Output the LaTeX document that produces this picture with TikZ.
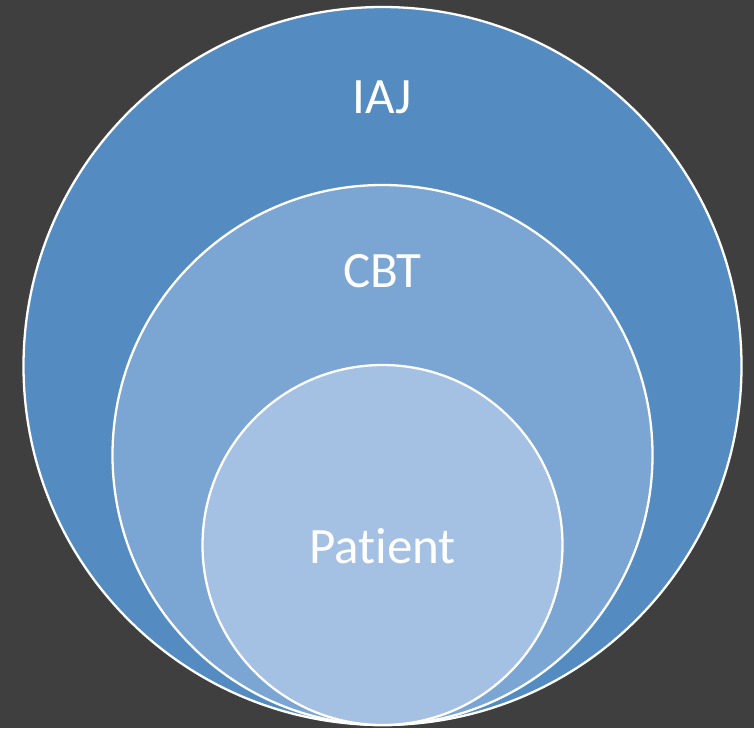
\documentclass[tikz,border=0pt]{standalone}
\usepackage{fontspec}
\setmainfont[Ligatures=NoCommon]{Carlito}
\definecolor{bgc}{HTML}{3F3F3F}
\definecolor{outerc}{HTML}{548CC1}
\definecolor{midc}{HTML}{7BA5D2}
\definecolor{innerc}{HTML}{A4C0E3}
\tikzset{ring/.style={draw=white, line width=2.3pt},
  lbl/.style={text=white, font=\fontsize{51}{60}\selectfont, inner sep=0pt, anchor=base}}
\begin{document}
\begin{tikzpicture}[x=1pt,y=-1pt]
\fill[bgc] (0,0) rectangle (754,728);
\useasboundingbox (0,0) rectangle (754,728);
\draw[ring, fill=outerc] (382.5,366) circle[radius=359];
\draw[ring, fill=midc] (382.5,455) circle[radius=270];
\draw[ring, fill=innerc] (382.5,545) circle[radius=180];
\node[lbl] (iaj) at (382.5,113) {IAJ};
\node[lbl] (cbt) at (382.5,287) {CBT};
\node[lbl] (pat) at (382.5,563) {Patient};
\end{tikzpicture}
\end{document}
